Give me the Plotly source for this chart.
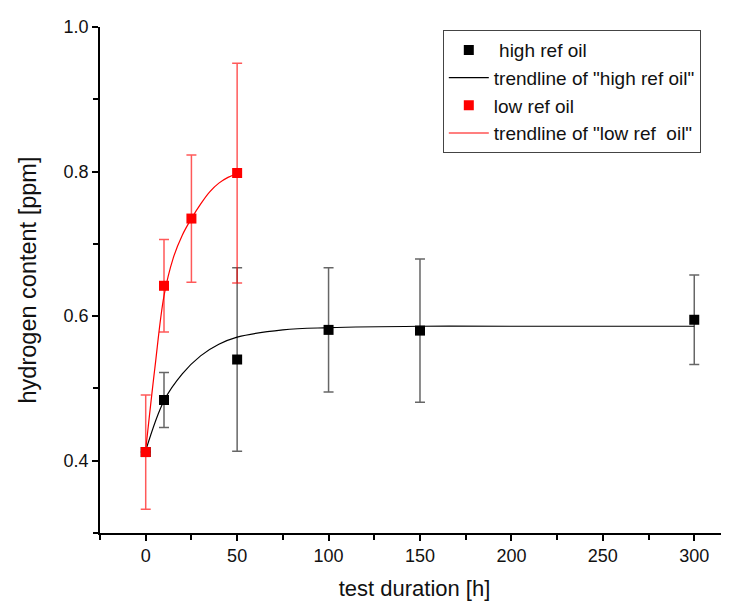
import plotly.graph_objects as go

# valores
horas_high = [0, 10, 50, 100, 150, 300]
h_high = [0.412, 0.484, 0.540, 0.581, 0.580, 0.595]
err_high = [0.0, 0.038, 0.127, 0.086, 0.099, 0.062]

horas_low = [0, 10, 25, 50]
h_low = [0.412, 0.642, 0.735, 0.798]
err_low = [0.079, 0.064, 0.088, 0.152]

# curvas de tendência (lidas ponto a ponto)
trend_x_high = [0, 10, 20, 30, 40, 50, 75, 100, 150, 200, 300]
trend_y_high = [0.414, 0.483, 0.520, 0.545, 0.561, 0.571, 0.581, 0.584, 0.586, 0.586, 0.586]
trend_x_low = [0, 5, 10, 15, 20, 25, 30, 35, 40, 45, 50]
trend_y_low = [0.415, 0.528, 0.628, 0.680, 0.712, 0.735, 0.755, 0.772, 0.784, 0.792, 0.797]

fonte = "Liberation Sans, Arial, sans-serif"

fig = go.Figure()
fig.add_trace(go.Scatter(x=horas_high, y=h_high, mode='markers', name=' high ref oil',
                         marker=dict(symbol='square', size=10, color='black'),
                         error_y=dict(type='data', array=err_high, visible=True,
                                      color='rgba(0,0,0,0.6)', thickness=1.5, width=5)))
fig.add_trace(go.Scatter(x=trend_x_high, y=trend_y_high, mode='lines', name='trendline of "high ref oil"',
                         line=dict(color='black', width=1.2, shape='spline')))
fig.add_trace(go.Scatter(x=horas_low, y=h_low, mode='markers', name='low ref oil',
                         marker=dict(symbol='square', size=10, color='red'),
                         error_y=dict(type='data', array=err_low, visible=True,
                                      color='rgba(255,0,0,0.65)', thickness=1.5, width=5)))
fig.add_trace(go.Scatter(x=trend_x_low, y=trend_y_low, mode='lines', name='trendline of "low ref  oil"',
                         line=dict(color='red', width=1.2, shape='spline')))

# a página tem margem de 8px no body, então a figura fica 8px menor
fig.update_layout(
    width=721, height=593,
    margin=dict(l=92, r=0, t=19, b=68),
    plot_bgcolor='white', paper_bgcolor='white',
    font=dict(family=fonte, size=18, color='#111'),
    showlegend=True,
    legend=dict(x=0.545, y=0.994, xanchor='left', yanchor='top',
                bordercolor='#444', borderwidth=1, bgcolor='white',
                font=dict(size=19), tracegroupgap=0, itemwidth=40),
    xaxis=dict(range=[-25, 319], showgrid=False, zeroline=False,
               showline=True, linecolor='black', linewidth=1.5,
               ticks='outside', ticklen=6, tickwidth=1.5, tickcolor='black',
               tick0=0, dtick=50,
               minor=dict(ticks='outside', ticklen=5, tickwidth=1.5, tickcolor='black',
                          tick0=-25, dtick=25),
               title=dict(text='test duration [h]', font=dict(size=22), standoff=16)),
    yaxis=dict(range=[0.3, 1.0], showgrid=False, zeroline=False,
               showline=True, linecolor='black', linewidth=1.5,
               ticks='outside', ticklen=6, tickwidth=1.5, tickcolor='black',
               tick0=0.4, dtick=0.2, tickformat='.1f',
               minor=dict(ticks='outside', ticklen=5, tickwidth=1.5, tickcolor='black',
                          tick0=0.3, dtick=0.1),
               title=dict(text='hydrogen content [ppm]', font=dict(size=23.5), standoff=20)),
)

fig.write_html("out.html")
